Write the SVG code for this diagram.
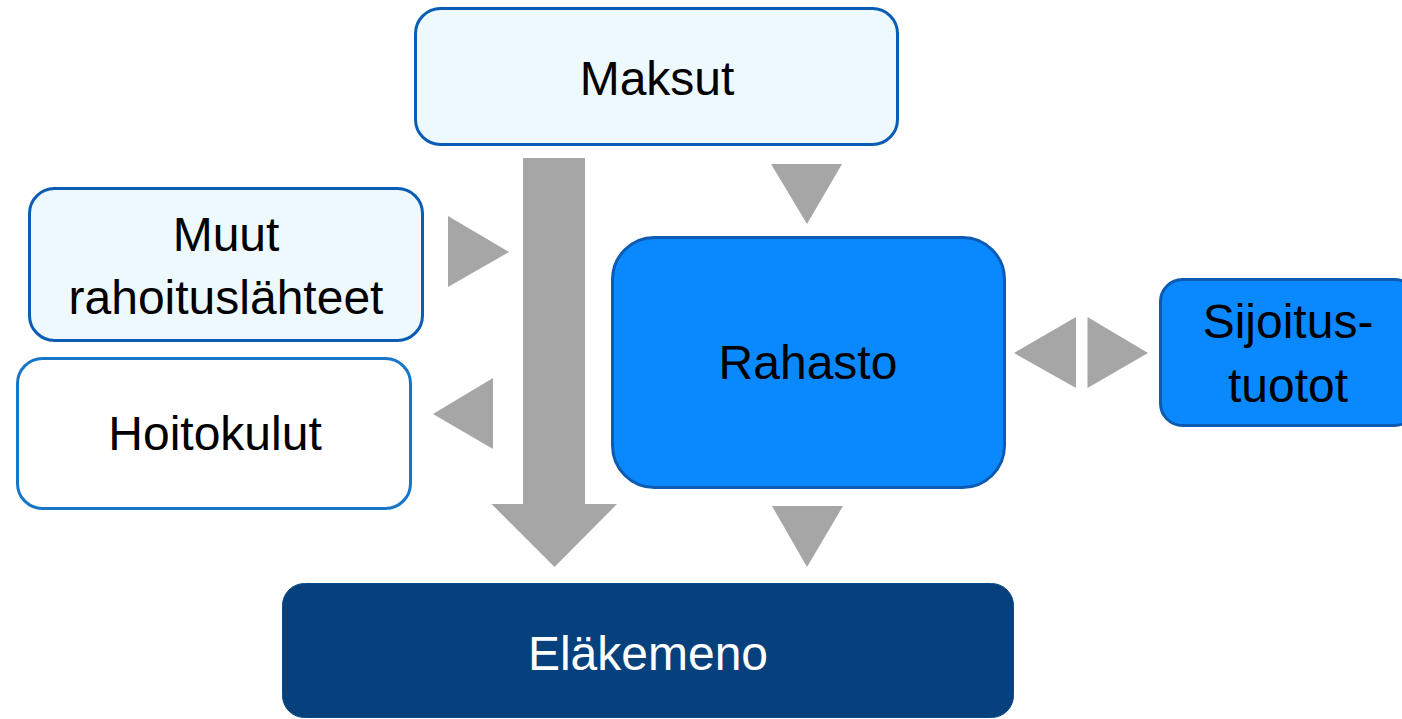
<svg xmlns="http://www.w3.org/2000/svg" width="1402" height="719" viewBox="0 0 1402 719">
<style>
.t{font-family:"Liberation Sans",Arial,sans-serif;font-size:48px;text-anchor:middle;fill:#000}
.light{fill:#EEF9FE;stroke:#0B5CB5;stroke-width:3}
.white{fill:#FFFFFF;stroke:#1776C8;stroke-width:3}
.blue{fill:#0A89FE;stroke:#0D5AB2;stroke-width:3}
.dark{fill:#06407D;stroke:#0A4A88;stroke-width:1}
.arr{fill:#A6A6A6}
</style>
<rect width="1402" height="719" fill="#FFFFFF"/>
<g id="connectors">
<polygon class="arr" points="523,158 585,158 585,504 617,504 554.5,567 491.5,504 523,504"/>
<polygon class="arr" points="771,164 842,164 807,224"/>
<polygon class="arr" points="448,216 509,252 448,287"/>
<polygon class="arr" points="493,378 433,414 493,449"/>
<polygon class="arr" points="772,506 843,506 807,567"/>
<polygon class="arr" points="1076,317 1014,353 1076,388"/>
<polygon class="arr" points="1087.5,317 1148,353 1087.5,388"/>
</g>
<g id="maksut">
<rect class="light" x="415.5" y="8.5" width="482" height="136" rx="25"/>
<text class="t" x="657" y="95">Maksut</text>
</g>
<g id="muut">
<rect class="light" x="29.5" y="188.5" width="393" height="152" rx="25"/>
<text class="t" x="226" y="251">Muut</text>
<text class="t" x="226" y="314">rahoituslähteet</text>
</g>
<g id="hoitokulut">
<rect class="white" x="17.5" y="358.5" width="393" height="150" rx="25"/>
<text class="t" x="215" y="450">Hoitokulut</text>
</g>
<g id="rahasto">
<rect class="blue" x="612.5" y="237.5" width="392" height="250" rx="42"/>
<text class="t" x="808" y="379">Rahasto</text>
</g>
<g id="sijoitustuotot">
<rect class="blue" x="1160.5" y="279.5" width="256" height="146" rx="22"/>
<text class="t" x="1288" y="338">Sijoitus-</text>
<text class="t" x="1288" y="402">tuotot</text>
</g>
<g id="elakemeno">
<rect class="dark" x="282.5" y="583.5" width="731" height="134" rx="22"/>
<text class="t" x="648" y="670" style="fill:#FFFFFF">Eläkemeno</text>
</g>
</svg>
